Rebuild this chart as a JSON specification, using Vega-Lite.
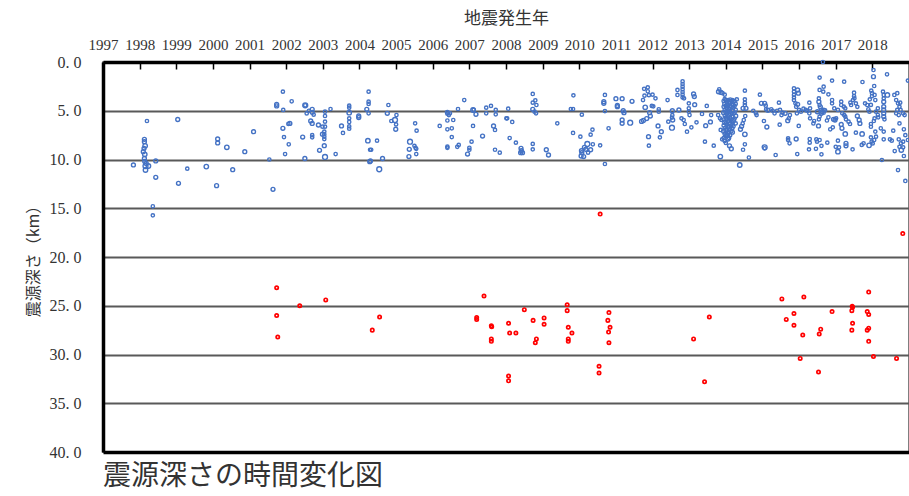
{
"$schema": "https://vega.github.io/schema/vega-lite/v6.json",
"width": 806, "height": 390,
"autosize": {"type": "none"},
"padding": {"left": 103, "top": 62, "right": 0, "bottom": 44},
"background": "white",
"config": {"view": {"stroke": "#555555", "strokeWidth": 1.5}},
"title": {"text": "震源深さの時間変化図", "orient": "bottom", "anchor": "start", "frame": "group", "font": "Noto Sans CJK JP", "fontSize": 28, "fontWeight": "normal", "color": "#333333", "offset": 3},
"datasets": {
"deep": [
{"t":2001.74,"d":23.15},{"t":2001.74,"d":26.0},{"t":2001.77,"d":28.2},{"t":2002.37,"d":25.0},{"t":2003.08,"d":24.4},{"t":2004.35,"d":27.5},{"t":2004.55,"d":26.15},
{"t":2010.57,"d":15.6},{"t":2018.83,"d":17.6},
{"t":2007.40,"d":24.0},{"t":2007.20,"d":26.2},{"t":2007.20,"d":26.4},{"t":2007.60,"d":27.05},{"t":2007.61,"d":27.15},{"t":2007.60,"d":28.4},{"t":2007.60,"d":28.65},
{"t":2008.07,"d":26.8},{"t":2008.10,"d":27.8},{"t":2008.27,"d":27.8},{"t":2008.07,"d":32.2},{"t":2008.07,"d":32.7},{"t":2008.50,"d":25.4},{"t":2008.74,"d":26.5},
{"t":2008.83,"d":28.4},{"t":2008.80,"d":28.8},{"t":2009.04,"d":26.25},{"t":2009.04,"d":26.9},{"t":2009.67,"d":24.9},{"t":2009.67,"d":25.5},{"t":2009.70,"d":27.2},
{"t":2009.80,"d":27.8},{"t":2009.70,"d":28.4},{"t":2009.70,"d":28.65},{"t":2010.81,"d":25.7},{"t":2010.78,"d":26.5},{"t":2010.84,"d":27.2},{"t":2010.80,"d":27.7},
{"t":2010.81,"d":28.8},{"t":2010.54,"d":31.2},{"t":2010.54,"d":31.9},{"t":2013.12,"d":28.4},{"t":2013.55,"d":26.15},{"t":2013.42,"d":32.8},
{"t":2015.53,"d":24.3},{"t":2016.13,"d":24.1},{"t":2015.65,"d":26.4},{"t":2015.86,"d":25.8},{"t":2015.86,"d":27.0},{"t":2016.10,"d":28.0},{"t":2016.03,"d":30.4},
{"t":2016.59,"d":27.4},{"t":2016.55,"d":27.9},{"t":2016.53,"d":31.8},{"t":2016.90,"d":25.6},{"t":2017.45,"d":25.05},{"t":2017.46,"d":25.15},{"t":2017.44,"d":25.5},
{"t":2017.46,"d":26.8},{"t":2017.44,"d":27.5},{"t":2017.90,"d":23.6},{"t":2017.86,"d":25.6},{"t":2017.90,"d":25.9},{"t":2017.90,"d":27.3},{"t":2017.86,"d":27.5},
{"t":2017.90,"d":28.65},{"t":2018.03,"d":30.2},{"t":2018.66,"d":30.4}
],
"shallow": [
{"t":1997.83,"d":10.56,"s":2},{"t":1998.13,"d":7.93,"s":2},{"t":1998.13,"d":8.17,"s":2},{"t":1998.15,"d":8.6,"s":3},{"t":1998.12,"d":8.85,"s":2},{"t":1998.10,"d":9.2,"s":2},
{"t":1998.14,"d":9.47,"s":3},{"t":1998.13,"d":9.9,"s":2},{"t":1998.14,"d":10.2,"s":2},{"t":1998.18,"d":10.4,"s":2},{"t":1998.16,"d":10.67,"s":4},{"t":1998.24,"d":10.67,"s":3},
{"t":1998.16,"d":11.08,"s":3},{"t":1998.20,"d":6.05,"s":1},{"t":1998.44,"d":10.15,"s":2},{"t":1998.44,"d":11.83,"s":2},{"t":1998.36,"d":14.8,"s":1},{"t":1998.36,"d":15.73,"s":1},
{"t":1999.04,"d":5.9,"s":2},{"t":1999.06,"d":12.44,"s":2},{"t":1999.30,"d":10.94,"s":1},{"t":1999.82,"d":10.73,"s":3},{"t":2000.13,"d":7.9,"s":2},{"t":2000.13,"d":8.3,"s":2},
{"t":2000.38,"d":8.75,"s":3},{"t":2000.10,"d":12.68,"s":2},{"t":2000.54,"d":11.04,"s":2},{"t":2000.87,"d":9.2,"s":2},{"t":2001.11,"d":7.15,"s":2},{"t":2001.54,"d":10.0,"s":1},
{"t":2001.64,"d":13.06,"s":2},
{"t":2001.91,"d":3.04,"s":1},{"t":2001.74,"d":4.34,"s":2},{"t":2001.74,"d":4.5,"s":2},{"t":2002.15,"d":4.03,"s":1},{"t":2001.92,"d":4.92,"s":1},{"t":2002.52,"d":4.44,"s":4},
{"t":2002.52,"d":4.44,"s":1},{"t":2002.71,"d":4.85,"s":2},{"t":2002.71,"d":5.16,"s":2},{"t":2002.56,"d":5.27,"s":1},{"t":2002.62,"d":5.0,"s":1},{"t":2002.75,"d":5.4,"s":1},
{"t":2002.67,"d":6.05,"s":2},{"t":2002.71,"d":6.3,"s":2},{"t":2002.88,"d":6.46,"s":2},{"t":2002.10,"d":6.3,"s":2},{"t":2002.06,"d":6.35,"s":1},{"t":2001.91,"d":6.8,"s":2},
{"t":2001.94,"d":7.7,"s":1},{"t":2002.07,"d":8.44,"s":1},{"t":2002.45,"d":7.7,"s":2},{"t":2002.71,"d":7.5,"s":1},{"t":2002.71,"d":7.73,"s":1},{"t":2001.97,"d":9.44,"s":1},
{"t":2002.51,"d":9.9,"s":2},{"t":2002.91,"d":9.06,"s":2},{"t":2003.06,"d":9.74,"s":4},{"t":2003.04,"d":8.58,"s":2},{"t":2003.04,"d":7.14,"s":1},{"t":2003.04,"d":7.4,"s":1},
{"t":2003.04,"d":7.66,"s":1},{"t":2003.04,"d":7.9,"s":1},{"t":2002.99,"d":6.63,"s":1},{"t":2003.06,"d":6.63,"s":1},{"t":2003.06,"d":6.12,"s":1},{"t":2003.06,"d":5.54,"s":1},
{"t":2003.06,"d":5.1,"s":1},{"t":2002.99,"d":7.4,"s":2},{"t":2003.21,"d":4.82,"s":1},{"t":2003.35,"d":9.44,"s":1},{"t":2003.51,"d":6.56,"s":2},{"t":2003.55,"d":7.28,"s":1},
{"t":2003.72,"d":4.48,"s":1},{"t":2003.72,"d":4.68,"s":1},{"t":2003.72,"d":5.2,"s":3},{"t":2003.72,"d":5.78,"s":1},{"t":2003.72,"d":6.15,"s":1},{"t":2003.72,"d":6.6,"s":1},
{"t":2003.72,"d":6.84,"s":1},{"t":2003.98,"d":5.54,"s":2},{"t":2003.98,"d":5.7,"s":2},{"t":2004.25,"d":3.04,"s":1},{"t":2004.25,"d":4.07,"s":1},{"t":2004.25,"d":4.3,"s":1},
{"t":2004.20,"d":4.85,"s":2},{"t":2004.25,"d":5.26,"s":1},{"t":2004.23,"d":8.07,"s":3},{"t":2004.29,"d":9.0,"s":1},{"t":2004.28,"d":10.22,"s":2},
{"t":2004.79,"d":4.41,"s":1},{"t":2004.76,"d":5.26,"s":2},{"t":2005.01,"d":5.44,"s":1},{"t":2004.97,"d":5.95,"s":4},{"t":2004.87,"d":6.05,"s":1},{"t":2005.00,"d":6.4,"s":1},
{"t":2004.99,"d":6.9,"s":2},{"t":2004.48,"d":8.07,"s":1},{"t":2004.32,"d":9.0,"s":1},{"t":2004.30,"d":10.15,"s":2},{"t":2004.63,"d":9.9,"s":2},{"t":2004.54,"d":11.0,"s":4},
{"t":2005.52,"d":6.29,"s":1},{"t":2005.56,"d":7.04,"s":1},{"t":2005.38,"d":8.17,"s":4},{"t":2005.36,"d":8.96,"s":2},{"t":2005.50,"d":8.6,"s":1},{"t":2005.53,"d":8.8,"s":1},
{"t":2005.55,"d":8.9,"s":1},{"t":2005.55,"d":9.44,"s":1},{"t":2005.35,"d":9.7,"s":2},{"t":2006.19,"d":6.56,"s":1},{"t":2006.40,"d":5.16,"s":2},{"t":2006.40,"d":5.3,"s":1},
{"t":2006.44,"d":5.44,"s":1},{"t":2006.47,"d":5.26,"s":1},{"t":2006.40,"d":6.0,"s":1},{"t":2006.56,"d":5.95,"s":1},{"t":2006.40,"d":6.9,"s":1},{"t":2006.52,"d":6.8,"s":1},
{"t":2006.52,"d":7.7,"s":1},{"t":2006.40,"d":8.68,"s":1},{"t":2006.40,"d":8.8,"s":1},{"t":2006.71,"d":8.5,"s":1},{"t":2006.67,"d":8.7,"s":1},{"t":2006.86,"d":3.9,"s":1},
{"t":2006.69,"d":4.82,"s":1},{"t":2007.10,"d":4.92,"s":3},{"t":2007.18,"d":5.37,"s":2},{"t":2007.12,"d":4.9,"s":1},{"t":2007.10,"d":6.56,"s":1},{"t":2007.06,"d":8.17,"s":1},
{"t":2007.00,"d":8.8,"s":1},{"t":2007.00,"d":9.0,"s":1},{"t":2006.95,"d":9.44,"s":2},{"t":2007.36,"d":7.6,"s":2},{"t":2007.46,"d":4.68,"s":1},{"t":2007.59,"d":4.5,"s":1},
{"t":2007.46,"d":5.26,"s":1},{"t":2007.72,"d":4.92,"s":1},{"t":2007.72,"d":5.37,"s":1},{"t":2007.66,"d":6.56,"s":2},{"t":2007.70,"d":6.97,"s":1},{"t":2007.70,"d":9.0,"s":1},
{"t":2007.83,"d":9.3,"s":1},{"t":2008.01,"d":5.78,"s":1},
{"t":2008.06,"d":4.79,"s":1},{"t":2008.03,"d":5.78,"s":1},{"t":2008.17,"d":6.15,"s":1},{"t":2008.10,"d":7.8,"s":1},{"t":2008.27,"d":8.27,"s":1},{"t":2008.41,"d":8.85,"s":2},
{"t":2008.42,"d":9.1,"s":2},{"t":2008.40,"d":9.3,"s":2},{"t":2008.45,"d":9.3,"s":2},{"t":2008.73,"d":3.28,"s":1},{"t":2008.73,"d":4.17,"s":1},{"t":2008.80,"d":3.93,"s":1},
{"t":2008.83,"d":4.41,"s":1},{"t":2008.73,"d":4.85,"s":2},{"t":2008.78,"d":5.1,"s":1},{"t":2008.82,"d":5.26,"s":1},{"t":2008.73,"d":8.4,"s":1},{"t":2008.73,"d":8.96,"s":1},
{"t":2009.10,"d":9.0,"s":2},{"t":2009.16,"d":9.54,"s":2},{"t":2009.40,"d":6.29,"s":1},{"t":2009.77,"d":4.82,"s":1},{"t":2009.83,"d":4.82,"s":1},{"t":2009.84,"d":3.42,"s":1},
{"t":2010.07,"d":5.4,"s":1},{"t":2009.83,"d":7.28,"s":1},{"t":2010.03,"d":7.66,"s":1},{"t":2010.22,"d":8.4,"s":4},{"t":2010.36,"d":6.94,"s":1},{"t":2010.31,"d":7.45,"s":1},
{"t":2010.37,"d":8.44,"s":1},{"t":2010.14,"d":8.75,"s":2},{"t":2010.06,"d":9.1,"s":2},{"t":2010.18,"d":8.95,"s":2},{"t":2010.31,"d":9.0,"s":2},{"t":2010.05,"d":9.64,"s":2},
{"t":2010.12,"d":9.7,"s":2},{"t":2010.07,"d":9.3,"s":2},{"t":2010.24,"d":9.3,"s":1},{"t":2010.57,"d":8.55,"s":1},{"t":2010.70,"d":10.46,"s":1},{"t":2010.70,"d":3.38,"s":1},
{"t":2010.67,"d":4.07,"s":2},{"t":2010.67,"d":4.24,"s":2},{"t":2010.70,"d":5.03,"s":1},{"t":2010.80,"d":6.8,"s":1},{"t":2011.00,"d":3.76,"s":2},{"t":2011.17,"d":3.76,"s":2},
{"t":2011.04,"d":4.58,"s":2},{"t":2011.04,"d":4.45,"s":2},{"t":2011.20,"d":5.0,"s":2},{"t":2011.22,"d":5.2,"s":2},{"t":2011.44,"d":4.03,"s":2},{"t":2011.17,"d":5.95,"s":2},
{"t":2011.17,"d":6.29,"s":2},{"t":2011.39,"d":6.22,"s":4},{"t":2011.70,"d":6.09,"s":2},
{"t":2011.77,"d":2.75,"s":1},{"t":2011.87,"d":2.6,"s":1},{"t":2011.87,"d":3.0,"s":1},{"t":2011.78,"d":3.45,"s":1},{"t":2011.90,"d":3.4,"s":1},{"t":2012.00,"d":3.35,"s":1},
{"t":2012.08,"d":3.73,"s":1},{"t":2011.74,"d":3.9,"s":1},{"t":2011.80,"d":4.65,"s":3},{"t":2011.98,"d":4.5,"s":1},{"t":2012.02,"d":4.55,"s":1},{"t":2012.17,"d":4.85,"s":1},
{"t":2012.17,"d":5.1,"s":1},{"t":2011.75,"d":6.0,"s":2},{"t":2011.84,"d":5.8,"s":2},{"t":2011.94,"d":5.55,"s":2},{"t":2011.92,"d":5.2,"s":2},{"t":2012.15,"d":6.56,"s":2},
{"t":2012.24,"d":7.15,"s":2},{"t":2012.20,"d":7.73,"s":1},{"t":2011.89,"d":7.66,"s":2},{"t":2011.90,"d":8.58,"s":1},{"t":2012.41,"d":3.9,"s":1},{"t":2012.43,"d":6.12,"s":1},
{"t":2012.53,"d":5.7,"s":1},{"t":2012.55,"d":5.95,"s":2},{"t":2012.54,"d":5.0,"s":2},{"t":2012.54,"d":5.45,"s":1},{"t":2012.53,"d":6.74,"s":4},{"t":2012.68,"d":2.87,"s":1},
{"t":2012.68,"d":3.38,"s":1},{"t":2012.72,"d":4.92,"s":2},{"t":2012.82,"d":1.98,"s":1},{"t":2012.82,"d":2.26,"s":1},{"t":2012.82,"d":2.53,"s":1},{"t":2012.82,"d":2.8,"s":1},
{"t":2012.82,"d":3.08,"s":1},{"t":2012.82,"d":3.35,"s":1},{"t":2012.82,"d":3.63,"s":1},{"t":2012.86,"d":3.73,"s":1},{"t":2012.99,"d":4.24,"s":1},{"t":2012.99,"d":4.75,"s":1},
{"t":2012.99,"d":5.1,"s":1},{"t":2013.01,"d":5.44,"s":1},{"t":2013.12,"d":3.28,"s":2},{"t":2013.14,"d":3.55,"s":2},{"t":2013.15,"d":4.38,"s":2},{"t":2012.79,"d":5.78,"s":1},
{"t":2012.85,"d":5.95,"s":1},{"t":2012.88,"d":6.36,"s":1},{"t":2012.94,"d":7.15,"s":1},{"t":2013.06,"d":6.7,"s":1},{"t":2013.20,"d":6.19,"s":1},{"t":2013.35,"d":5.33,"s":1},
{"t":2013.48,"d":4.51,"s":1},{"t":2013.45,"d":6.53,"s":2},{"t":2013.58,"d":6.15,"s":2},{"t":2013.60,"d":5.44,"s":1},{"t":2013.43,"d":8.17,"s":1},{"t":2013.67,"d":8.58,"s":1},
{"t":2013.82,"d":2.8,"s":1},{"t":2013.80,"d":3.05,"s":2},{"t":2013.87,"d":3.12,"s":2},{"t":2013.91,"d":3.2,"s":1},{"t":2013.97,"d":3.35,"s":1},{"t":2013.79,"d":5.44,"s":1},
{"t":2013.84,"d":5.78,"s":1},{"t":2013.88,"d":5.95,"s":1},{"t":2013.86,"d":6.97,"s":1},{"t":2013.90,"d":7.93,"s":1},{"t":2013.85,"d":9.7,"s":3},
{"t":2013.94,"d":4.0,"s":1},{"t":2013.94,"d":4.6,"s":1},{"t":2013.94,"d":5.2,"s":2},{"t":2013.94,"d":5.9,"s":1},{"t":2013.94,"d":6.5,"s":1},{"t":2013.94,"d":7.1,"s":2},{"t":2013.94,"d":7.8,"s":1},
{"t":2013.97,"d":3.8,"s":1},{"t":2013.97,"d":4.3,"s":2},{"t":2013.97,"d":4.9,"s":1},{"t":2013.97,"d":5.5,"s":1},{"t":2013.97,"d":6.2,"s":2},{"t":2013.97,"d":6.8,"s":1},{"t":2013.97,"d":7.4,"s":1},{"t":2013.97,"d":8.1,"s":1},
{"t":2014.00,"d":3.9,"s":1},{"t":2014.00,"d":4.5,"s":1},{"t":2014.00,"d":5.1,"s":2},{"t":2014.00,"d":5.7,"s":1},{"t":2014.00,"d":6.3,"s":1},{"t":2014.00,"d":7.0,"s":2},{"t":2014.00,"d":7.6,"s":1},{"t":2014.00,"d":8.3,"s":1},
{"t":2014.03,"d":4.1,"s":2},{"t":2014.03,"d":4.7,"s":1},{"t":2014.03,"d":5.3,"s":1},{"t":2014.03,"d":5.8,"s":2},{"t":2014.03,"d":6.4,"s":1},{"t":2014.03,"d":6.9,"s":1},{"t":2014.03,"d":7.5,"s":2},
{"t":2014.06,"d":3.9,"s":1},{"t":2014.06,"d":4.4,"s":1},{"t":2014.06,"d":5.0,"s":1},{"t":2014.06,"d":5.6,"s":2},{"t":2014.06,"d":6.1,"s":1},{"t":2014.06,"d":6.7,"s":1},{"t":2014.06,"d":7.3,"s":1},{"t":2014.06,"d":7.9,"s":2},
{"t":2014.09,"d":4.2,"s":1},{"t":2014.09,"d":4.8,"s":2},{"t":2014.09,"d":5.4,"s":1},{"t":2014.09,"d":6.0,"s":1},{"t":2014.09,"d":6.6,"s":2},{"t":2014.09,"d":7.2,"s":1},{"t":2014.09,"d":7.8,"s":1},
{"t":2014.12,"d":3.85,"s":1},{"t":2014.12,"d":4.5,"s":1},{"t":2014.12,"d":5.1,"s":1},{"t":2014.12,"d":5.7,"s":1},{"t":2014.12,"d":6.35,"s":2},{"t":2014.12,"d":6.9,"s":1},{"t":2014.12,"d":7.5,"s":1},
{"t":2014.15,"d":4.0,"s":1},{"t":2014.15,"d":4.6,"s":2},{"t":2014.15,"d":5.25,"s":1},{"t":2014.15,"d":5.9,"s":1},{"t":2014.15,"d":6.5,"s":1},{"t":2014.15,"d":7.1,"s":1},
{"t":2014.18,"d":3.9,"s":1},{"t":2014.18,"d":4.4,"s":1},{"t":2014.18,"d":5.0,"s":2},{"t":2014.18,"d":5.6,"s":1},{"t":2014.18,"d":6.2,"s":1},{"t":2014.18,"d":6.8,"s":1},
{"t":2014.21,"d":4.1,"s":1},{"t":2014.21,"d":4.7,"s":1},{"t":2014.21,"d":5.3,"s":1},{"t":2014.21,"d":6.0,"s":2},{"t":2014.21,"d":6.6,"s":1},
{"t":2014.24,"d":4.0,"s":1},{"t":2014.24,"d":4.5,"s":1},{"t":2014.24,"d":5.2,"s":1},{"t":2014.24,"d":5.8,"s":1},
{"t":2014.27,"d":4.3,"s":1},{"t":2014.27,"d":4.9,"s":1},{"t":2014.27,"d":6.3,"s":1},
{"t":2014.10,"d":8.6,"s":2},{"t":2014.15,"d":8.9,"s":2},{"t":2014.05,"d":7.5,"s":2},{"t":2014.18,"d":7.2,"s":2},{"t":2014.27,"d":5.54,"s":2},{"t":2014.30,"d":3.83,"s":1},
{"t":2014.40,"d":6.9,"s":2},{"t":2014.43,"d":6.6,"s":2},{"t":2014.52,"d":7.42,"s":3},{"t":2014.38,"d":10.56,"s":3},{"t":2014.52,"d":2.94,"s":1},{"t":2014.52,"d":3.83,"s":1},
{"t":2014.52,"d":4.17,"s":1},{"t":2014.52,"d":4.41,"s":1},{"t":2014.55,"d":4.75,"s":2},{"t":2014.47,"d":4.75,"s":2},{"t":2014.53,"d":5.54,"s":1},{"t":2014.49,"d":5.95,"s":1},
{"t":2014.46,"d":6.3,"s":1},{"t":2014.52,"d":8.44,"s":1},{"t":2014.47,"d":9.0,"s":1},{"t":2014.63,"d":9.8,"s":1},{"t":2014.75,"d":5.0,"s":1},{"t":2014.82,"d":5.26,"s":1},
{"t":2014.84,"d":5.44,"s":1},{"t":2014.93,"d":3.35,"s":1},{"t":2014.97,"d":4.24,"s":2},{"t":2015.06,"d":4.24,"s":2},{"t":2015.09,"d":4.48,"s":1},{"t":2015.04,"d":6.05,"s":1},
{"t":2015.12,"d":6.67,"s":2},{"t":2015.06,"d":8.75,"s":4},{"t":2015.06,"d":8.85,"s":1},{"t":2015.10,"d":4.85,"s":1},{"t":2015.15,"d":4.95,"s":2},{"t":2015.24,"d":4.85,"s":1},
{"t":2015.28,"d":5.0,"s":1},{"t":2015.33,"d":5.26,"s":1},{"t":2015.36,"d":9.54,"s":1},
{"t":2016.65,"d":0.0,"s":1},{"t":2015.45,"d":4.17,"s":1},{"t":2015.47,"d":6.43,"s":1},{"t":2015.48,"d":4.92,"s":1},{"t":2015.52,"d":5.44,"s":1},{"t":2015.69,"d":6.02,"s":2},
{"t":2015.70,"d":7.83,"s":1},{"t":2015.70,"d":8.0,"s":1},{"t":2015.74,"d":8.34,"s":1},{"t":2015.75,"d":5.44,"s":1},{"t":2015.72,"d":5.78,"s":1},{"t":2015.40,"d":5.0,"s":1},
{"t":2015.55,"d":5.2,"s":1},{"t":2015.62,"d":5.26,"s":2},{"t":2016.05,"d":5.1,"s":1},{"t":2016.18,"d":4.9,"s":1},{"t":2016.22,"d":5.0,"s":1},
{"t":2015.86,"d":2.7,"s":1},{"t":2015.86,"d":3.04,"s":1},{"t":2015.86,"d":3.38,"s":1},{"t":2015.86,"d":3.63,"s":1},{"t":2015.86,"d":3.9,"s":1},{"t":2015.90,"d":4.24,"s":1},
{"t":2015.92,"d":4.6,"s":1},{"t":2015.96,"d":2.87,"s":2},{"t":2015.98,"d":3.2,"s":2},{"t":2015.96,"d":4.34,"s":2},{"t":2015.94,"d":5.26,"s":1},{"t":2016.00,"d":4.92,"s":1},
{"t":2015.92,"d":7.9,"s":2},{"t":2015.99,"d":6.56,"s":1},{"t":2015.95,"d":9.44,"s":1},{"t":2016.12,"d":4.79,"s":1},{"t":2016.28,"d":4.17,"s":1},{"t":2016.30,"d":4.75,"s":1},
{"t":2016.28,"d":5.26,"s":1},{"t":2016.30,"d":5.78,"s":1},{"t":2016.29,"d":7.9,"s":1},{"t":2016.29,"d":8.27,"s":1},{"t":2016.27,"d":8.96,"s":1},{"t":2016.41,"d":6.05,"s":1},
{"t":2016.39,"d":6.3,"s":1},{"t":2016.47,"d":7.93,"s":1},{"t":2016.49,"d":8.17,"s":1},{"t":2016.46,"d":8.9,"s":1},{"t":2016.53,"d":6.56,"s":2},{"t":2016.56,"d":1.6,"s":1},
{"t":2016.56,"d":2.87,"s":1},{"t":2016.54,"d":3.73,"s":1},{"t":2016.54,"d":4.07,"s":2},{"t":2016.56,"d":4.41,"s":1},{"t":2016.58,"d":4.6,"s":2},{"t":2016.60,"d":4.92,"s":1},
{"t":2016.61,"d":5.26,"s":2},{"t":2016.56,"d":5.6,"s":1},{"t":2016.54,"d":5.88,"s":1},{"t":2016.50,"d":5.1,"s":2},{"t":2016.63,"d":5.1,"s":2},{"t":2016.67,"d":4.92,"s":1},
{"t":2016.67,"d":5.2,"s":1},{"t":2016.71,"d":4.95,"s":1},{"t":2016.67,"d":2.53,"s":1},{"t":2016.66,"d":3.04,"s":1},{"t":2016.80,"d":3.32,"s":1},{"t":2016.61,"d":8.6,"s":1},
{"t":2016.61,"d":9.47,"s":1},{"t":2016.56,"d":8.0,"s":1},{"t":2016.76,"d":6.0,"s":1},{"t":2016.80,"d":5.67,"s":1},{"t":2016.85,"d":6.9,"s":1},{"t":2016.77,"d":8.27,"s":1},
{"t":2016.92,"d":6.7,"s":1},{"t":2017.00,"d":8.7,"s":1},
{"t":2016.90,"d":1.91,"s":1},{"t":2016.90,"d":3.9,"s":1},{"t":2016.90,"d":4.24,"s":1},{"t":2016.94,"d":5.88,"s":2},{"t":2016.98,"d":5.95,"s":2},{"t":2017.01,"d":5.78,"s":1},
{"t":2016.96,"d":4.75,"s":1},{"t":2017.06,"d":4.92,"s":1},{"t":2017.06,"d":9.2,"s":3},{"t":2017.06,"d":8.07,"s":1},{"t":2017.09,"d":8.75,"s":1},{"t":2017.15,"d":6.4,"s":2},
{"t":2017.17,"d":6.8,"s":2},{"t":2017.23,"d":2.02,"s":1},{"t":2017.15,"d":4.07,"s":1},{"t":2017.15,"d":4.41,"s":1},{"t":2017.22,"d":4.58,"s":1},{"t":2017.26,"d":4.75,"s":1},
{"t":2017.18,"d":5.26,"s":1},{"t":2017.23,"d":5.44,"s":1},{"t":2017.26,"d":5.6,"s":1},{"t":2017.28,"d":5.88,"s":1},{"t":2017.26,"d":7.38,"s":3},{"t":2017.28,"d":8.34,"s":2},
{"t":2017.28,"d":8.6,"s":2},{"t":2017.35,"d":6.12,"s":1},{"t":2017.39,"d":6.36,"s":1},{"t":2017.46,"d":8.96,"s":1},{"t":2017.40,"d":4.17,"s":1},{"t":2017.42,"d":4.41,"s":1},
{"t":2017.47,"d":3.9,"s":1},{"t":2017.51,"d":3.73,"s":1},{"t":2017.55,"d":4.24,"s":1},{"t":2017.59,"d":4.6,"s":1},{"t":2017.50,"d":3.5,"s":1},{"t":2017.50,"d":3.15,"s":1},
{"t":2017.59,"d":5.54,"s":2},{"t":2017.64,"d":5.95,"s":2},{"t":2017.66,"d":6.3,"s":2},{"t":2017.73,"d":2.05,"s":1},{"t":2017.55,"d":7.25,"s":1},{"t":2017.72,"d":7.38,"s":3},
{"t":2017.71,"d":8.5,"s":1},{"t":2017.76,"d":8.34,"s":1},{"t":2017.80,"d":4.24,"s":1},{"t":2017.86,"d":4.41,"s":1},{"t":2017.89,"d":4.85,"s":1},{"t":2017.92,"d":5.1,"s":1},
{"t":2017.97,"d":2.94,"s":1},{"t":2017.99,"d":3.2,"s":1},{"t":2017.99,"d":3.49,"s":1},{"t":2018.03,"d":1.5,"s":2},{"t":2018.03,"d":0.82,"s":1},{"t":2018.05,"d":2.46,"s":1},
{"t":2017.93,"d":3.83,"s":1},{"t":2017.96,"d":4.4,"s":1},{"t":2018.06,"d":3.38,"s":1},{"t":2018.08,"d":3.9,"s":1},{"t":2017.91,"d":8.55,"s":3},{"t":2017.96,"d":7.73,"s":1},
{"t":2017.98,"d":8.17,"s":1},{"t":2018.01,"d":8.35,"s":1},{"t":2018.05,"d":8.0,"s":1},{"t":2018.08,"d":7.14,"s":1},{"t":2018.10,"d":7.66,"s":1},{"t":2017.96,"d":6.36,"s":1},
{"t":2017.96,"d":6.64,"s":1},{"t":2018.04,"d":6.05,"s":1},{"t":2018.06,"d":5.78,"s":1},{"t":2018.10,"d":5.1,"s":1},{"t":2018.15,"d":5.44,"s":1},{"t":2018.16,"d":5.67,"s":1},
{"t":2018.15,"d":4.75,"s":1},{"t":2018.29,"d":3.04,"s":1},{"t":2018.31,"d":3.38,"s":1},{"t":2018.31,"d":3.73,"s":1},{"t":2018.31,"d":4.07,"s":2},{"t":2018.31,"d":4.58,"s":2},
{"t":2018.31,"d":4.92,"s":2},{"t":2018.31,"d":5.26,"s":2},{"t":2018.31,"d":5.6,"s":2},{"t":2018.33,"d":5.88,"s":1},{"t":2018.41,"d":3.38,"s":3},{"t":2018.40,"d":1.26,"s":1},
{"t":2018.26,"d":10.05,"s":1},{"t":2018.23,"d":6.8,"s":1},{"t":2018.31,"d":7.14,"s":1},{"t":2018.31,"d":7.93,"s":1},{"t":2018.48,"d":7.93,"s":1},{"t":2018.53,"d":8.07,"s":1},
{"t":2018.57,"d":7.04,"s":1},{"t":2018.60,"d":3.38,"s":1},{"t":2018.65,"d":3.9,"s":1},{"t":2018.68,"d":3.2,"s":1},{"t":2018.70,"d":4.24,"s":1},{"t":2018.74,"d":4.6,"s":1},
{"t":2018.76,"d":4.17,"s":1},{"t":2018.77,"d":4.92,"s":1},{"t":2018.68,"d":4.92,"s":1},{"t":2018.65,"d":5.26,"s":1},{"t":2018.72,"d":5.44,"s":1},{"t":2018.84,"d":5.26,"s":1},
{"t":2018.88,"d":5.44,"s":1},{"t":2018.74,"d":6.3,"s":1},{"t":2018.86,"d":6.9,"s":1},{"t":2018.90,"d":7.5,"s":1},{"t":2018.72,"d":7.93,"s":1},{"t":2018.78,"d":8.34,"s":1},
{"t":2018.84,"d":8.17,"s":1},{"t":2018.79,"d":9.03,"s":3},{"t":2018.74,"d":8.7,"s":1},{"t":2018.84,"d":8.75,"s":1},{"t":2018.61,"d":9.13,"s":1},{"t":2018.86,"d":9.64,"s":1},
{"t":2018.70,"d":11.08,"s":1},{"t":2018.90,"d":12.2,"s":1},{"t":2018.97,"d":1.91,"s":1},{"t":2018.97,"d":8.0,"s":1}
]
},
"encoding": {
"x": {"field": "t", "type": "quantitative", "scale": {"domain": [1997, 2019], "nice": false, "zero": false},
 "axis": {"orient": "top", "offset": -7, "title": "地震発生年", "values": [1997,1998,1999,2000,2001,2002,2003,2004,2005,2006,2007,2008,2009,2010,2011,2012,2013,2014,2015,2016,2017,2018], "format": "d", "labelFlush": false, "labelOverlap": false, "ticks": true, "tickSize": 7, "tickWidth": 1.5, "tickColor": "#000000", "labelPadding": 10, "domain": false, "grid": false, "labelFont": "Liberation Serif", "labelFontSize": 15, "labelColor": "#333333", "titleFont": "Noto Sans CJK JP", "titleFontSize": 17, "titleFontWeight": "normal", "titleColor": "#333333", "titlePadding": 10}},
"y": {"field": "d", "type": "quantitative", "scale": {"domain": [0, 40], "reverse": true, "nice": false, "zero": false},
 "axis": {"values": [0,5,10,15,20,25,30,35,40], "labelExpr": "replace(format(datum.value, '.1f'), '.', '. ')", "ticks": false, "labelPadding": 22, "labelFont": "Liberation Serif", "labelFontSize": 16, "labelColor": "#333333", "grid": true,
  "gridColor": {"condition": {"test": "datum.value === 0 || datum.value === 40", "value": "#000000"}, "value": "#595959"},
  "gridWidth": {"condition": {"test": "datum.value === 0 || datum.value === 40", "value": 3.5}, "value": 2},
  "domainColor": "#000000", "domainWidth": 3.5, "title": "震源深さ（km）", "titleFont": "Noto Sans CJK JP", "titleFontSize": 16, "titleFontWeight": "normal", "titleColor": "#333333", "titlePadding": 8}}
},
"layer": [
{
"data": {"name": "shallow"},
"mark": {"type": "point", "filled": false, "color": "#4472C4", "strokeWidth": 1.4, "opacity": 1},
"encoding": {
"size": {"field": "s", "type": "ordinal", "scale": {"domain": [1,2,3,4], "range": [11,24,50,95]}, "legend": null}
}
},
{
"data": {"name": "deep"},
"mark": {"type": "point", "filled": false, "color": "#FF0000", "strokeWidth": 1.7, "size": 11, "opacity": 1}
}
]
}
